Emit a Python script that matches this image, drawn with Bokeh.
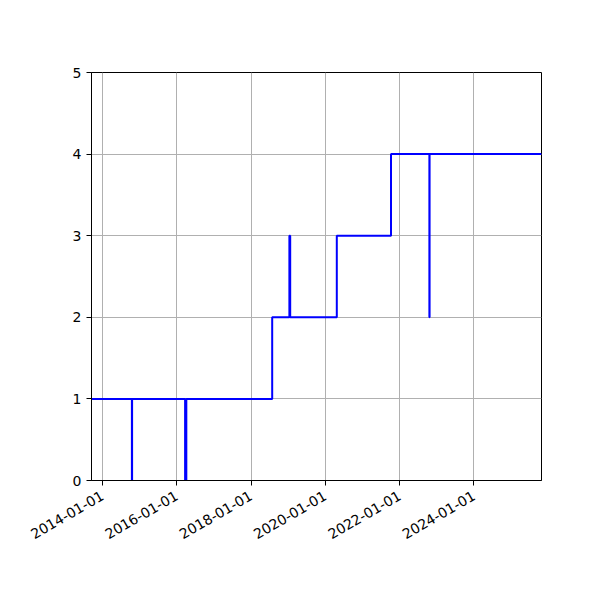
import math
import pandas as pd
from bokeh.plotting import figure
from bokeh.models import Range1d, FixedTicker, DatetimeTickFormatter
from bokeh.embed import file_html
from bokeh.resources import INLINE

# Data
dates = ["2013-09-16", "2014-10-18", "2014-10-20", "2016-03-24", "2016-04-05",
         "2018-07-28", "2019-01-13", "2019-01-21", "2020-04-23", "2021-10-08",
         "2022-10-20", "2022-10-22", "2025-10-26"]
values = [1, 0, 1, 0, 1, 2, 3, 2, 3, 4, 2, 4, 4]
tick_labels = ["2014-01-01", "2016-01-01", "2018-01-01", "2020-01-01",
               "2022-01-01", "2024-01-01"]
y_ticks = [0, 1, 2, 3, 4, 5]

x = pd.to_datetime(dates)
tick_ms = [pd.Timestamp(t).value / 1e6 for t in tick_labels]

p = figure(width=600, height=600, output_backend="svg", toolbar_location=None,
           x_axis_type="datetime",
           x_range=Range1d(x[0], x[-1]), y_range=Range1d(0, 5),
           min_border_left=91, min_border_right=59, min_border_top=72,
           min_border_bottom=120)
p.background_fill_color = "white"
p.border_fill_color = "white"
p.outline_line_color = "black"
p.outline_line_width = 1

p.step(x, values, mode="after", line_color="blue", line_width=2)

p.xaxis.ticker = FixedTicker(ticks=tick_ms)
p.xaxis.formatter = DatetimeTickFormatter(
    milliseconds="%Y-%m-%d", seconds="%Y-%m-%d", minsec="%Y-%m-%d",
    minutes="%Y-%m-%d", hourmin="%Y-%m-%d", hours="%Y-%m-%d", days="%Y-%m-%d",
    months="%Y-%m-%d", years="%Y-%m-%d")
p.xaxis.major_label_orientation = math.pi / 6
p.xaxis.major_label_standoff = 9
p.yaxis.ticker = FixedTicker(ticks=y_ticks)

for ax in (p.xaxis, p.yaxis):
    ax.axis_line_color = "black"
    ax.major_tick_line_color = "black"
    ax.major_tick_out = 5
    ax.major_tick_in = 0
    ax.minor_tick_line_color = None
    ax.major_label_text_font = "DejaVu Sans"
    ax.major_label_text_font_size = "14px"
    ax.major_label_text_color = "black"

p.grid.grid_line_color = "#b0b0b0"
p.grid.grid_line_width = 1

open("out.html", "w").write(file_html(p, INLINE))
